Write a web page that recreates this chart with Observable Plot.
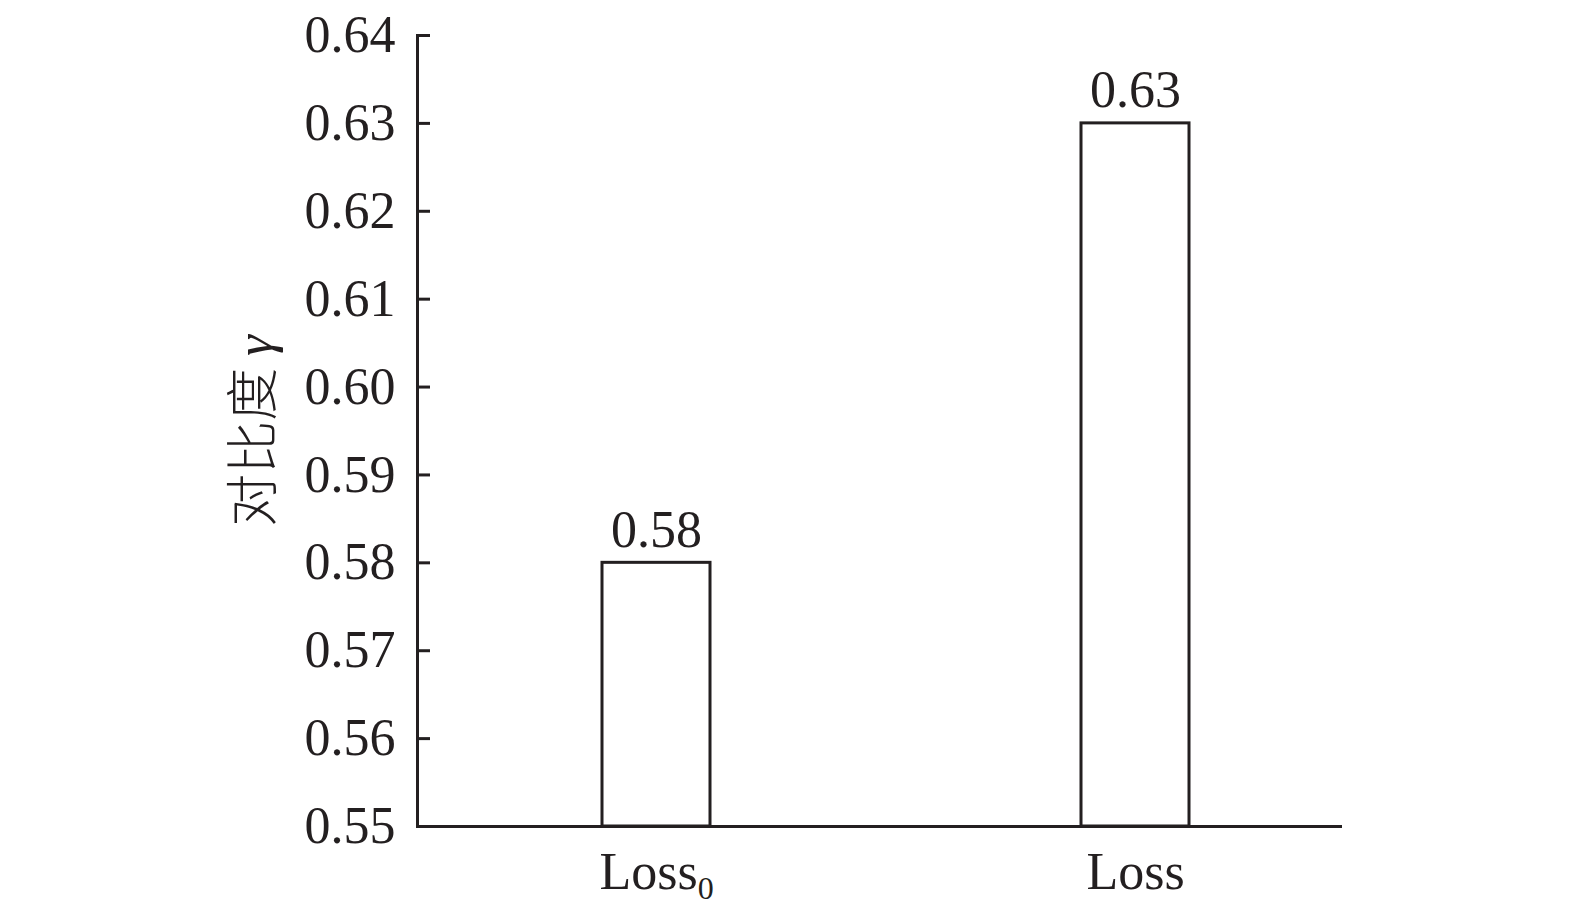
<!DOCTYPE html>
<html>
<head>
<meta charset="utf-8">
<script src="https://cdn.jsdelivr.net/npm/d3@7"></script>
<script src="https://cdn.jsdelivr.net/npm/@observablehq/plot@0.6"></script>
<style>
  html, body { margin: 0; padding: 0; background: #fff; }
  #chart svg { display: block; }
</style>
</head>
<body>
<div id="chart"></div>
<script>
const categories = ["Loss0", "Loss"];
const values = [0.58, 0.63];
const valueLabels = ["0.58", "0.63"];
const yTicks = [0.55, 0.56, 0.57, 0.58, 0.59, 0.60, 0.61, 0.62, 0.63, 0.64];
const yLabelCJK = "对比度";
const yLabelSym = "γ";

const data = categories.map((c, i) => ({cat: c, v: values[i], label: valueLabels[i]}));
const ink = "#231f20";
const font = "'Liberation Serif', 'Noto Sans CJK SC', serif";

const svg = Plot.plot({
  width: 1575,
  height: 917,
  marginTop: 35,
  marginBottom: 91,
  marginLeft: 417,
  marginRight: 233,
  style: {fontFamily: font, fontSize: "52px", color: ink, background: "#fff"},
  x: {domain: categories, paddingInner: 0.775, paddingOuter: 0.352, align: 0.548},
  y: {domain: [yTicks[0], yTicks[yTicks.length - 1]]},
  marks: [
    Plot.barY(data, {x: "cat", y1: yTicks[0], y2: "v", fill: "#fff", stroke: ink, strokeWidth: 3}),
    Plot.text(data, {x: "cat", y: "v", text: "label", lineAnchor: "bottom", dy: -16, fontSize: 52, fill: ink}),
    Plot.axisY({ticks: yTicks, tickSize: -13, text: null, label: null, strokeWidth: 3, stroke: ink}),
    Plot.axisY({ticks: yTicks, tickSize: 0, tickPadding: 22, tickFormat: d => d.toFixed(2), label: null, fontSize: 52}),
    Plot.axisX({tickSize: 0, tickPadding: 26, label: null, fontSize: 52}),
    Plot.frame({anchor: "left", stroke: ink, strokeWidth: 3}),
    Plot.ruleY([yTicks[0]], {stroke: ink, strokeWidth: 3}),
    Plot.text([yLabelCJK + " " + yLabelSym], {frameAnchor: "left", textAnchor: "middle", rotate: -90, dx: -162, fontSize: 53, fill: ink, className: "ylab"})
  ]
});

// Subscript for Loss0
d3.select(svg).selectAll("g[aria-label='x-axis tick label'] text").each(function() {
  const t = d3.select(this);
  if (t.text() === "Loss0") {
    t.text("");
    t.append("tspan").text("Loss");
    t.append("tspan").attr("dy", "0.3em").attr("font-size", "32px").text("0");
  }
});

// Italic gamma in y label
d3.select(svg).selectAll(".ylab text").each(function() {
  const t = d3.select(this);
  t.text("");
  t.append("tspan").attr("font-family", "'Noto Sans CJK SC', sans-serif").attr("font-weight", "300").text(yLabelCJK + " ");
  t.append("tspan").attr("font-style", "italic").attr("font-family", "'Liberation Serif', serif").text(yLabelSym);
});

document.getElementById("chart").appendChild(svg);
</script>
</body>
</html>
